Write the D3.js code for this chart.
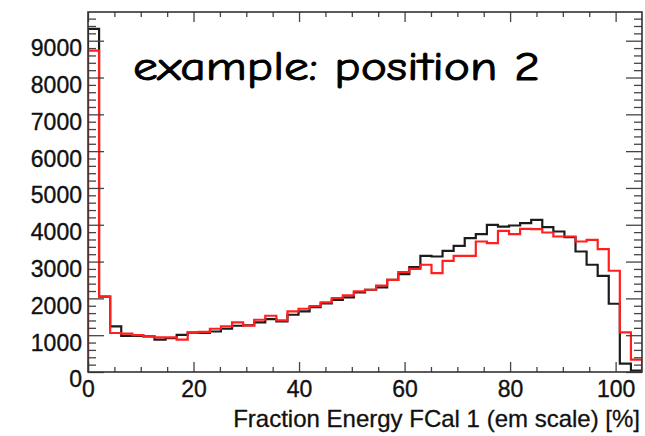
<!DOCTYPE html>
<meta charset='utf-8'>
<style>
  body { margin: 0; background: #fff; }
  svg { display: block; }
  .tick text { font-family: "Liberation Sans", Arial, sans-serif; fill: #111; stroke: #111; stroke-width: 0.35; }
  .domain { display: none; }
</style>
<body>
<div id="viz"></div>
<script src="https://cdn.jsdelivr.net/npm/d3@7"></script>
<script>

// histogram: 50 bins of 2.1 % from 0 to 105
const binStart = 0;
const binWidth = 2.1;

// black histogram (counts per bin)
const blackCounts = [
  9320, 2050, 1240, 980, 980, 970, 880, 920, 1010, 1070,
  1060, 1100, 1175, 1257, 1270, 1346, 1439, 1375, 1555, 1645,
  1760, 1865, 1962, 2030, 2161, 2234, 2300, 2505, 2660, 2850,
  3157, 3138, 3293, 3428, 3637, 3746, 3998, 3952, 3980, 4044,
  4134, 3936, 3817, 3664, 3274, 2913, 2614, 1854, 225, 40
];

// red histogram (counts per bin)
const redCounts = [
  8730, 2050, 1060, 1040, 1000, 970, 940, 940, 880, 1075,
  1090, 1175, 1238, 1346, 1260, 1420, 1528, 1400, 1645, 1718,
  1790, 1890, 2010, 2080, 2190, 2234, 2350, 2505, 2715, 2800,
  2913, 2687, 3021, 3157, 3157, 3545, 3501, 3835, 3746, 3890,
  3881, 3790, 3681, 3681, 3545, 3591, 3338, 2750, 1075, 334
];

const xTicks = [0, 20, 40, 60, 80, 100];
const yTicks = [0, 1000, 2000, 3000, 4000, 5000, 6000, 7000, 8000, 9000];
const xTitle = 'Fraction Energy FCal 1 (em scale) [%]';
const caption = 'example: position 2';

const W = 645, H = 436;
const frame = {left: 88, right: 642, top: 12, bottom: 372};

const svg = d3.select('#viz').append('svg').attr('width', W).attr('height', H);

const x = d3.scaleLinear().domain([0, 105]).range([frame.left, frame.right]);
const y = d3.scaleLinear().domain([0, 9780]).range([frame.bottom, frame.top]);

svg.append('clipPath').attr('id', 'clip')
  .append('rect')
  .attr('x', frame.left).attr('y', frame.top)
  .attr('width', frame.right - frame.left).attr('height', frame.bottom - frame.top);

function histPoints(counts) {
  const pts = [[binStart, 0]];
  counts.forEach((c, i) => pts.push([binStart + i * binWidth, c]));
  const end = binStart + counts.length * binWidth;
  pts.push([end, counts[counts.length - 1]]);
  pts.push([end, 0]);
  return pts;
}

const line = d3.line()
  .x(d => x(d[0]))
  .y(d => y(d[1]))
  .curve(d3.curveStepAfter);

const g = svg.append('g').attr('clip-path', 'url(#clip)');
g.append('path')
  .attr('d', line(histPoints(blackCounts)))
  .attr('fill', 'none').attr('stroke', '#1c1c1c').attr('stroke-width', 2.2);
g.append('path')
  .attr('d', line(histPoints(redCounts)))
  .attr('fill', 'none').attr('stroke', '#ff1f1f').attr('stroke-width', 2.2);

// minor ticks
const xMinor = d3.range(0, 105, 5).filter(v => !xTicks.includes(v));
const yMinor = d3.range(0, 9780, 200).filter(v => !yTicks.includes(v));

function axisGroup(axis, tx, ty) {
  return svg.append('g').attr('transform', `translate(${tx},${ty})`).call(axis);
}

const tickColor = '#444';

// bottom
axisGroup(d3.axisBottom(x).tickValues(xTicks).tickSize(-10), 0, frame.bottom)
  .call(a => a.selectAll('text').attr('font-size', 23).attr('dy', '0.71em').attr('y', 9));
axisGroup(d3.axisBottom(x).tickValues(xMinor).tickSize(-5).tickFormat(''), 0, frame.bottom);
// top
axisGroup(d3.axisTop(x).tickValues(xTicks).tickSize(-10).tickFormat(''), 0, frame.top);
axisGroup(d3.axisTop(x).tickValues(xMinor).tickSize(-5).tickFormat(''), 0, frame.top);
// left
axisGroup(d3.axisLeft(y).tickValues(yTicks).tickSize(-16).tickFormat(d3.format('d')), frame.left, 0)
  .call(a => a.selectAll('text').attr('font-size', 23).attr('x', -6).attr('dy', '0.52em')
    .attr('transform', 'translate(0,3)'));
axisGroup(d3.axisLeft(y).tickValues(yMinor).tickSize(-8).tickFormat(''), frame.left, 0);
// right
axisGroup(d3.axisRight(y).tickValues(yTicks).tickSize(-16).tickFormat(''), frame.right, 0);
axisGroup(d3.axisRight(y).tickValues(yMinor).tickSize(-8).tickFormat(''), frame.right, 0);

svg.selectAll('.tick line').attr('stroke', tickColor).attr('stroke-width', 1.3);

// frame
svg.append('rect')
  .attr('x', frame.left).attr('y', frame.top)
  .attr('width', frame.right - frame.left).attr('height', frame.bottom - frame.top)
  .attr('fill', 'none').attr('stroke', '#333').attr('stroke-width', 1.6);

// axis title
svg.append('text')
  .attr('x', 640).attr('y', 427)
  .attr('text-anchor', 'end')
  .attr('font-family', '"Liberation Sans", Arial, sans-serif')
  .attr('font-size', 24)
  .attr('fill', '#111')
  .attr('stroke', '#111').attr('stroke-width', 0.3)
  .text(xTitle);

// caption
svg.append('text')
  .attr('x', 133).attr('y', 80)
  .attr('font-family', '"Comic Sans MS", "Comic Neue", "DejaVu Sans", sans-serif')
  .attr('font-size', 40)
  .attr('textLength', 407)
  .attr('lengthAdjust', 'spacingAndGlyphs')
  .attr('fill', '#000')
  .attr('stroke', '#000').attr('stroke-width', 0.9)
  .text(caption);

</script>
</body>
